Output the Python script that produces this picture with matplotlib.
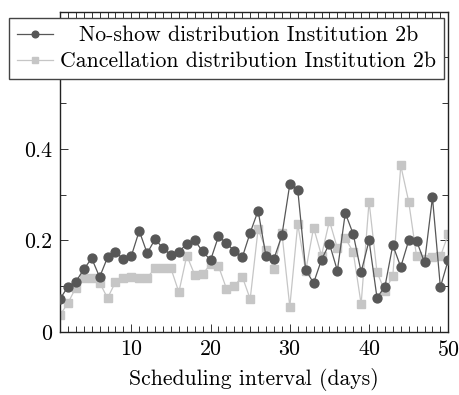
import numpy as np
import matplotlib
matplotlib.use("Agg")
import matplotlib.pyplot as plt
from matplotlib.ticker import MultipleLocator, FuncFormatter

plt.rcParams['font.family'] = 'serif'
plt.rcParams['font.serif'] = ['cmr10', 'DejaVu Serif']
plt.rcParams['mathtext.fontset'] = 'cm'
plt.rcParams['axes.formatter.use_mathtext'] = True

# scheduling interval in days
days = list(range(1, 51))

no_show = [0.072, 0.099, 0.110, 0.137, 0.161, 0.120, 0.163, 0.174, 0.160, 0.166,
           0.221, 0.172, 0.203, 0.183, 0.168, 0.175, 0.193, 0.200, 0.176, 0.157,
           0.209, 0.194, 0.177, 0.163, 0.217, 0.265, 0.165, 0.160, 0.211, 0.323,
           0.311, 0.136, 0.107, 0.158, 0.193, 0.134, 0.260, 0.214, 0.131, 0.200,
           0.075, 0.099, 0.190, 0.142, 0.200, 0.199, 0.152, 0.294, 0.098, 0.158]

cancellation = [0.037, 0.063, 0.097, 0.117, 0.117, 0.108, 0.074, 0.109, 0.119, 0.120,
                0.119, 0.119, 0.139, 0.139, 0.139, 0.087, 0.167, 0.125, 0.126, 0.149,
                0.144, 0.095, 0.101, 0.121, 0.072, 0.225, 0.179, 0.138, 0.217, 0.055,
                0.236, 0.133, 0.228, 0.167, 0.243, 0.183, 0.205, 0.175, 0.061, 0.285,
                0.131, 0.089, 0.123, 0.364, 0.285, 0.165, 0.160, 0.163, 0.165, 0.214]

dark = '#575757'
light = '#c6c6c6'

fig = plt.figure(figsize=(4.59, 3.95), dpi=100)
ax = fig.add_axes([0.1307, 0.1595, 0.846, 0.811])

ax.plot(days, cancellation, color=light, lw=0.9, marker='s', ms=6.4,
        mec=light, mfc=light, label='Cancellation distribution Institution 2b', zorder=2)
ax.plot(days, no_show, color=dark, lw=0.9, marker='o', ms=6.4,
        mec=dark, mfc=dark, label='No-show distribution Institution 2b', zorder=3)

ax.set_xlim(1, 50)
ax.set_ylim(0, 0.7)

ax.xaxis.set_major_locator(MultipleLocator(10))
ax.xaxis.set_minor_locator(MultipleLocator(1))
ax.yaxis.set_major_locator(MultipleLocator(0.2))
ax.yaxis.set_minor_locator(MultipleLocator(0.1))
ax.yaxis.set_major_formatter(FuncFormatter(lambda v, p: '0' if abs(v) < 1e-9 else '%.1f' % v))

ax.tick_params(which='both', direction='in', top=True, right=True,
               labelsize=15.8, color='#333333', width=0.7)
ax.tick_params(which='major', length=5.5, pad=5.5)
ax.tick_params(which='minor', length=4)
for s in ax.spines.values():
    s.set_linewidth(1.0)
    s.set_color('#222222')

ax.set_xlabel('Scheduling interval (days)', fontsize=15.6, labelpad=6)

handles, labels = ax.get_legend_handles_labels()
leg = ax.legend(handles[::-1], labels[::-1], loc='upper left',
                bbox_to_anchor=(9 / 459, 1 - 18 / 395), bbox_transform=fig.transFigure,
                borderaxespad=0, fontsize=15.7, fancybox=False, framealpha=1,
                edgecolor='#444444', handlelength=1.65, handletextpad=0.35,
                labelspacing=0.3, borderpad=0.35, markerscale=0.75)
leg.get_frame().set_linewidth(1.0)

# centre the shorter entry the way pgfplots does
fig.canvas.draw()
r = fig.canvas.get_renderer()
widths = [t.get_window_extent(r).width for t in leg.get_texts()]
col = leg._legend_handle_box.get_children()[0]
rows = col.get_children()
shift = (max(widths) - widths[0]) / 2 * 72 / fig.dpi
rows[0].sep = rows[0].sep + shift

fig.savefig('out.png', dpi=100)
